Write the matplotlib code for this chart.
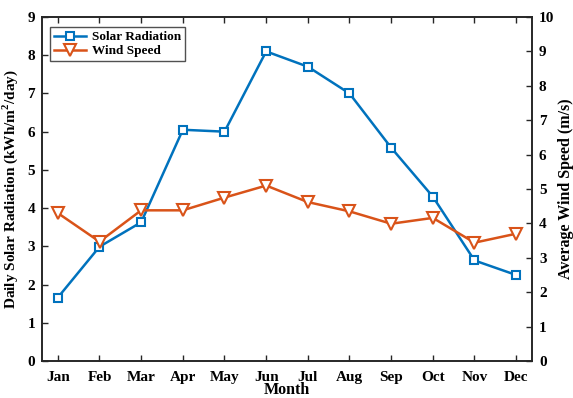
import matplotlib
matplotlib.use("Agg")
import matplotlib.pyplot as plt
import numpy as np

months = ["Jan", "Feb", "Mar", "Apr", "May", "Jun", "Jul", "Aug", "Sep", "Oct", "Nov", "Dec"]
solar = [1.66, 2.99, 3.63, 6.05, 6.0, 8.1, 7.7, 7.0, 5.58, 4.3, 2.63, 2.25]
wind = [4.3, 3.47, 4.38, 4.38, 4.75, 5.1, 4.62, 4.35, 3.99, 4.16, 3.44, 3.7]

plt.rcParams['font.family'] = ['Liberation Serif', 'DejaVu Serif']
plt.rcParams['font.weight'] = 'bold'
plt.rcParams['mathtext.fontset'] = 'custom'
plt.rcParams['mathtext.rm'] = 'Liberation Serif:bold'
plt.rcParams['mathtext.bf'] = 'Liberation Serif:bold'

blue = '#0072BD'
orange = '#D95319'

fig = plt.figure(figsize=(5.73, 3.98), dpi=100)
ax = fig.add_axes([42/573, 1 - 361/398, 490/573, 344/398])
x = np.arange(1, 13)
l1, = ax.plot(x, solar, color=blue, lw=1.8, marker='s', ms=5.5, mfc='white', mec=blue, mew=1.5, label='Solar Radiation')
ax2 = ax.twinx()
l2, = ax2.plot(x, wind, color=orange, lw=1.8, marker='v', ms=8, mfc='white', mec=orange, mew=1.5, label='Wind Speed')

ax.set_xlim(0.62, 12.38)
ax.set_ylim(0, 9)
ax2.set_ylim(0, 10)
ax.set_xticks(x)
ax.set_xticklabels(months)
ax.set_yticks(range(0, 10))
ax2.set_yticks(range(0, 11))

for a in (ax, ax2):
    for s in a.spines.values():
        s.set_linewidth(1.2)
        s.set_color('#262626')
    a.tick_params(direction='in', labelsize=11, width=1.0, length=4, colors='#262626')
ax.tick_params(axis='x', top=True, pad=7)
ax.tick_params(axis='y', pad=5)
ax2.tick_params(axis='y', pad=5)

for lab in ax.get_xticklabels() + ax.get_yticklabels() + ax2.get_yticklabels():
    lab.set_fontweight('bold')
    lab.set_color('black')

ax.set_xlabel('Month', fontsize=11.5, fontweight='bold', labelpad=-1)
ax.set_ylabel('Daily Solar Radiation (kWh/m$^{2}$/day)', fontsize=11, fontweight='bold', labelpad=5)
ax2.set_ylabel('Average Wind Speed (m/s)', fontsize=11.5, fontweight='bold', labelpad=3)

leg = ax.legend(handles=[l1, l2], loc='upper left', fontsize=9.5, frameon=True, fancybox=False,
                edgecolor='#262626', borderpad=0.3, handlelength=2.4, handletextpad=0.5, labelspacing=0.15,
                borderaxespad=0, bbox_to_anchor=(8/490, 1 - 10/344))
leg.get_frame().set_linewidth(1.0)
for t in leg.get_texts():
    t.set_fontweight('bold')

fig.savefig('out.png', dpi=100)
